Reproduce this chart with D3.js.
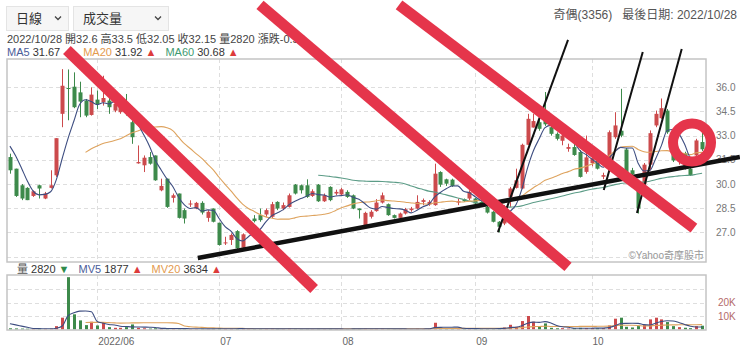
<!DOCTYPE html>
<html>
<head>
<meta charset="utf-8">
<script src="https://cdn.jsdelivr.net/npm/d3@7/dist/d3.min.js"></script>
<style>
  body { margin: 0; background: #fff; }
  svg { display: block; font-family: "Liberation Sans", "Noto Sans CJK TC", sans-serif; }
</style>
</head>
<body>
<svg id="chart" width="740" height="353"></svg>
<script>
// Axes
const monthTickIndex = [15, 36, 57, 80, 100];
const monthTickLabels = ["2022/06", "07", "08", "09", "10"];
const priceTicks = [27, 28.5, 30, 31.5, 33, 34.5, 36];
const priceGrid = [25.5, 27, 28.5, 30, 31.5, 33, 34.5, 36];
const volumeTicks = [10000, 20000];
const volumeTickLabels = ["10K", "20K"];
const volumeGrid = [10000, 20000, 30000];

// Closes and volumes of the 6 sessions before the window (only used by the moving averages)
const preClose = [31.0, 31.6, 32.3, 32.9, 33.0, 32.7];
const preVolume = [3200, 3500, 5000, 5200, 5100, 5050];

// Daily candles
const openPrices = [
  31.67, 30.95, 29.92, 29.76, 29.26, 29.92, 29.1, 29.76, 30.54, 34.35,
  35.95, 36.03, 35.68, 35.17, 34.28, 35.23, 35.07, 35.17, 34.55, 34.45,
  34.76, 33.83, 31.28, 31.16, 31.67, 31.77, 29.61, 30.33, 29.14, 29.41,
  28.38, 28.73, 28.48, 28.83, 27.9, 28.48, 27.6, 26.32, 26.53, 27.08,
  26.05, 27.25, 27.86, 28.07, 28.11, 27.97, 28.89, 28.48, 28.58, 29.96,
  29.92, 29.92, 29.26, 29.96, 28.93, 29.82, 29.41, 29.35, 29.51, 29.3,
  28.48, 27.45, 27.97, 28.32, 28.85, 28.75, 28.07, 27.9, 28.17, 28.38,
  28.48, 28.89, 28.73, 28.69, 30.74, 30.29, 30.27, 28.85, 29.06, 29.1,
  29.1, 28.89, 28.58, 28.28, 27.66, 27.55, 29.2, 29.76, 29.72, 32.43,
  33.5, 33.83, 34.5, 33.52, 33.11, 32.68, 32.18, 32.29, 31.98, 30.75,
  31.3, 31.44, 30.45, 31.57, 32.9, 33.3, 32.14, 30.85, 30.13, 30.0,
  31.2, 33.63, 34.08, 34.55, 33.21, 31.4, 31.9, 30.95, 31.77, 32.6
];
const highPrices = [
  31.88, 30.95, 30.0, 29.8, 29.6, 29.96, 29.51, 30.85, 32.84, 37.12,
  37.1, 36.92, 36.34, 35.27, 35.99, 35.79, 36.71, 35.48, 35.37, 35.17,
  35.58, 33.93, 32.39, 31.77, 31.98, 31.77, 30.33, 30.33, 29.41, 29.41,
  28.48, 28.99, 28.89, 28.93, 28.38, 28.48, 27.6, 26.73, 26.94, 27.14,
  26.94, 27.9, 28.07, 28.48, 28.48, 28.89, 28.93, 28.85, 29.41, 30.0,
  29.96, 30.29, 29.67, 30.0, 29.41, 29.86, 29.65, 29.76, 29.61, 29.35,
  28.48, 28.28, 28.38, 29.06, 29.47, 28.79, 28.11, 28.23, 28.52, 28.58,
  29.3, 29.1, 29.0, 31.26, 30.79, 30.33, 30.33, 29.1, 29.1, 29.61,
  29.14, 28.93, 28.69, 28.32, 27.7, 28.7, 29.82, 30.95, 32.5, 34.35,
  34.35, 34.35, 35.7, 33.6, 33.2, 33.3, 32.5, 33.1, 32.1, 33.0,
  31.9, 31.5, 30.7, 33.32, 34.45, 35.9, 32.23, 31.0, 30.23, 31.3,
  33.32, 34.55, 35.3, 34.65, 33.32, 32.1, 32.0, 31.57, 32.8, 33.5
];
const lowPrices = [
  30.64, 29.2, 29.0, 29.0, 29.2, 29.1, 29.06, 29.72, 30.44, 33.52,
  33.95, 34.7, 34.14, 34.14, 34.24, 34.65, 34.86, 34.35, 34.45, 34.35,
  34.24, 32.49, 31.26, 30.74, 31.2, 30.2, 29.55, 28.52, 28.85, 27.86,
  27.55, 28.58, 28.44, 28.11, 27.66, 27.62, 26.18, 26.22, 26.22, 25.97,
  25.97, 27.14, 27.62, 27.66, 27.97, 27.9, 28.38, 28.38, 28.54, 29.35,
  29.41, 29.14, 29.2, 28.89, 28.89, 28.93, 29.3, 29.26, 29.14, 28.44,
  27.86, 27.41, 27.86, 28.28, 28.79, 28.03, 27.86, 27.86, 28.11, 28.28,
  28.44, 28.69, 28.65, 28.65, 29.82, 29.88, 29.82, 28.69, 28.89, 29.0,
  28.73, 28.58, 28.17, 27.62, 27.0, 27.45, 28.58, 29.72, 29.68, 32.4,
  33.5, 33.3, 33.6, 33.0, 32.7, 32.4, 32.0, 31.75, 30.4, 30.64,
  31.1, 30.9, 30.3, 31.46, 32.8, 32.9, 30.64, 30.5, 28.17, 29.9,
  30.85, 33.52, 34.04, 33.11, 31.36, 31.2, 30.9, 30.5, 31.67, 32.05
];
const closePrices = [
  30.85, 29.26, 29.1, 29.0, 29.55, 29.72, 29.41, 29.92, 32.84, 36.09,
  35.9, 34.76, 35.11, 34.24, 35.54, 34.96, 35.33, 34.76, 34.96, 34.86,
  34.55, 32.9, 31.36, 31.63, 31.26, 30.23, 29.88, 28.58, 29.3, 27.9,
  27.86, 28.79, 28.83, 28.23, 28.28, 27.66, 26.22, 26.38, 26.84, 26.01,
  26.88, 27.55, 27.7, 27.76, 28.38, 28.75, 28.48, 28.69, 29.3, 29.41,
  29.61, 29.2, 29.55, 28.93, 29.3, 29.0, 29.51, 29.67, 29.2, 28.48,
  28.38, 28.21, 28.28, 28.85, 29.3, 28.07, 27.9, 28.17, 28.44, 28.48,
  28.89, 29.0, 28.89, 30.64, 29.96, 30.02, 29.88, 28.93, 28.93, 29.51,
  28.79, 28.69, 28.23, 27.66, 27.35, 28.6, 29.72, 30.23, 32.43, 34.04,
  33.9, 33.42, 33.7, 33.11, 32.8, 33.0, 32.29, 31.8, 30.44, 31.65,
  31.6, 30.95, 30.55, 33.21, 33.63, 33.0, 30.74, 30.6, 28.48, 31.2,
  33.15, 34.35, 34.7, 33.21, 31.46, 31.9, 31.06, 30.54, 32.7, 32.15
];
const volumes = [
  900, 800, 700, 600, 500, 600, 500, 600, 2500, 8750,
  38750, 11250, 6750, 3250, 5750, 3000, 5000, 1750, 1250, 1250,
  1750, 3750, 1250, 900, 700, 900, 600, 800, 500, 700,
  600, 400, 400, 500, 500, 500, 900, 500, 500, 600,
  700, 600, 400, 400, 500, 700, 500, 400, 700, 500,
  400, 500, 400, 600, 400, 500, 300, 400, 400, 600,
  500, 700, 400, 600, 700, 500, 300, 400, 400, 300,
  600, 400, 500, 5000, 1500, 800, 700, 900, 500, 600,
  600, 400, 500, 700, 900, 1500, 3500, 2000, 6250, 10000,
  5750, 2500, 4500, 1250, 900, 1000, 700, 1000, 1200, 1000,
  1000, 900, 1000, 3000, 8000, 8750, 2000, 1500, 2500, 3250,
  7500, 8750, 7500, 5500, 2500, 1750, 1300, 1000, 2500, 2820
];

// Hand-drawn marks on top of the chart, in (session index, price)
const redStrokes = [
  [[9.8, 38.31], [52.3, 23.49]],
  [[43.0, 41.1], [95.95, 24.86]],
  [[66.9, 41.1], [117.6, 27.27]]
];
const thickStroke = [[32.3, 25.41], [125.5, 31.67]];
const thinStrokes = [
  [[83.9, 27.02], [95.95, 38.93]],
  [[102.1, 29.63], [108.8, 38.18]],
  [[107.8, 28.2], [115.5, 38.37]]
];
const redCircle = [117.27, 32.57];

const upColor = "#cc4a4c";
const downColor = "#3d8a4b";
const ma5Color = "#3d4d80";
const ma20Color = "#dea35e";
const ma60Color = "#5c9c87";

const n = closePrices.length;
const svg = d3.select("#chart");

const mainBox = { left: 7, right: 706, top: 59, bottom: 262 };
const volBox = { left: 7, right: 706, top: 275, bottom: 330 };

const x = d3.scaleBand().domain(d3.range(n)).range([7, 705]);
const cx = i => x(i) + x.bandwidth() / 2;
const xLin = d3.scaleLinear().domain([0, n - 1]).range([cx(0), cx(n - 1)]);

const y = d3.scaleLinear().domain([25.5, 36]).range([256.6, 87.2]);
const yVol = d3.scaleLinear().domain([0, 10000]).range([329.5, 316]);

// Moyennes mobiles
function movingAverage(values, period, offset) {
  return d3.range(n).map(i => {
    const end = i + offset;
    const start = end - period + 1;
    if (start < 0) return null;
    return d3.mean(values.slice(start, end + 1));
  });
}
const allClose = preClose.concat(closePrices);
const allVol = preVolume.concat(volumes);
const ma5 = movingAverage(allClose, 5, preClose.length);
const ma20 = movingAverage(allClose, 20, preClose.length);
const ma60 = movingAverage(allClose, 60, preClose.length);
const mv5 = movingAverage(allVol, 5, preVolume.length);
const mv20 = movingAverage(allVol, 20, preVolume.length);

// ---- Header ----
const boxes = [
  { x: 6, w: 62, label: "日線" },
  { x: 73, w: 95, label: "成交量" }
];
boxes.forEach(b => {
  svg.append("rect")
    .attr("x", b.x + 0.5).attr("y", 6.5)
    .attr("width", b.w).attr("height", 24)
    .attr("fill", "#f6f6f6")
    .attr("stroke", "#e4e4e4");
  svg.append("text")
    .attr("x", b.x + 10).attr("y", 23)
    .attr("font-family", "Noto Sans CJK TC")
    .attr("font-size", 13).attr("fill", "#333")
    .text(b.label);
  const chevX = b.x + b.w - 10;
  svg.append("path")
    .attr("d", `M${chevX - 3},16.5 L${chevX},19.5 L${chevX + 3},16.5`)
    .attr("fill", "none").attr("stroke", "#444").attr("stroke-width", 1.3);
});

svg.append("text")
  .attr("x", 737).attr("y", 19)
  .attr("text-anchor", "end")
  .attr("font-size", 12).attr("fill", "#555")
  .attr("xml:space", "preserve")
  .text("奇偶(3356)   最後日期: 2022/10/28");

svg.append("text")
  .attr("x", 7).attr("y", 43)
  .attr("font-size", 11).attr("fill", "#444")
  .text("2022/10/28 開32.6 高33.5 低32.05 收32.15 量2820 漲跌-0.55");

function legendRow(yPos, xStart, items) {
  const t = svg.append("text")
    .attr("x", xStart).attr("y", yPos)
    .attr("font-size", 11).attr("xml:space", "preserve");
  items.forEach(it => {
    t.append("tspan").attr("fill", it.c).attr("dx", it.dx || 0).text(it.t);
  });
}
legendRow(56, 7, [
  { t: "MA5", c: "#4a5c99" }, { t: " 31.67 ", c: "#333" }, { t: "▲", c: "#dd3b3b" },
  { t: "MA20", c: "#e39a4d", dx: 9 }, { t: " 31.92 ", c: "#333" }, { t: "▲", c: "#dd3b3b" },
  { t: "MA60", c: "#3e9a70", dx: 9 }, { t: " 30.68 ", c: "#333" }, { t: "▲", c: "#dd3b3b" }
]);
legendRow(273, 17, [
  { t: "量", c: "#555" }, { t: " 2820 ", c: "#333" }, { t: "▼", c: "#2f8a4a" },
  { t: "MV5", c: "#4a5c99", dx: 9 }, { t: " 1877 ", c: "#333" }, { t: "▲", c: "#dd3b3b" },
  { t: "MV20", c: "#e39a4d", dx: 9 }, { t: " 3634 ", c: "#333" }, { t: "▲", c: "#dd3b3b" }
]);

// ---- Grilles ----
svg.selectAll(".price-grid")
  .data(priceGrid)
  .join("line")
  .attr("class", "price-grid")
  .attr("x1", mainBox.left).attr("x2", mainBox.right)
  .attr("y1", d => Math.round(y(d)) + 0.5).attr("y2", d => Math.round(y(d)) + 0.5)
  .attr("stroke", "#dedede").attr("stroke-dasharray", "4,3");

svg.selectAll(".vol-grid")
  .data(volumeGrid)
  .join("line")
  .attr("class", "vol-grid")
  .attr("x1", volBox.left).attr("x2", volBox.right)
  .attr("y1", d => Math.round(yVol(d)) + 0.5).attr("y2", d => Math.round(yVol(d)) + 0.5)
  .attr("stroke", "#dedede").attr("stroke-dasharray", "4,3");

[mainBox, volBox].forEach(b => {
  svg.append("g").selectAll("line")
    .data(monthTickIndex)
    .join("line")
    .attr("x1", d => Math.round(cx(d)) + 0.5).attr("x2", d => Math.round(cx(d)) + 0.5)
    .attr("y1", b.top).attr("y2", b.bottom)
    .attr("stroke", "#dedede").attr("stroke-dasharray", "4,3");
});

// Axe des prix
svg.selectAll(".price-label")
  .data(priceTicks)
  .join("text")
  .attr("class", "price-label")
  .attr("x", 716).attr("y", d => y(d) + 3.5)
  .attr("font-size", 10).attr("fill", "#777")
  .text(d => d.toFixed(1));

svg.selectAll(".vol-label")
  .data(volumeTicks)
  .join("text")
  .attr("class", "vol-label")
  .attr("x", 718).attr("y", d => yVol(d) + 3.5)
  .attr("font-size", 10).attr("fill", "#b46a6a")
  .text((d, i) => volumeTickLabels[i]);

svg.selectAll(".month-label")
  .data(monthTickIndex)
  .join("text")
  .attr("class", "month-label")
  .attr("x", d => cx(d) + 1).attr("y", 345)
  .attr("font-size", 10).attr("fill", "#666")
  .text((d, i) => monthTickLabels[i]);

// ---- Bougies ----
const candles = svg.append("g");
d3.range(n).forEach(i => {
  const up = closePrices[i] >= openPrices[i];
  const col = up ? upColor : downColor;
  const xc = Math.round(cx(i));
  candles.append("line")
    .attr("x1", xc + 0.5).attr("x2", xc + 0.5)
    .attr("y1", y(highPrices[i])).attr("y2", y(lowPrices[i]))
    .attr("stroke", col);
  const top = y(Math.max(openPrices[i], closePrices[i]));
  const bot = y(Math.min(openPrices[i], closePrices[i]));
  candles.append("rect")
    .attr("x", xc - 1.5).attr("width", 4)
    .attr("y", top).attr("height", Math.max(1, bot - top))
    .attr("fill", col);
});

const maLine = d3.line()
  .defined(d => d !== null)
  .x((d, i) => cx(i))
  .y(d => y(d))
  .curve(d3.curveMonotoneX);
[[ma60, ma60Color], [ma20, ma20Color], [ma5, ma5Color]].forEach(([data, col]) => {
  svg.append("path")
    .attr("d", maLine(data))
    .attr("fill", "none").attr("stroke", col).attr("stroke-width", 1.1);
});

// ---- Volume ----
svg.selectAll(".vol-bar")
  .data(volumes)
  .join("rect")
  .attr("class", "vol-bar")
  .attr("x", (d, i) => Math.round(cx(i)) - 1)
  .attr("width", 3)
  .attr("y", d => yVol(d))
  .attr("height", d => yVol(0) - yVol(d))
  .attr("fill", (d, i) => closePrices[i] >= openPrices[i] ? upColor : downColor);

const mvLine = d3.line()
  .defined(d => d !== null)
  .x((d, i) => cx(i))
  .y(d => yVol(d))
  .curve(d3.curveMonotoneX);
[[mv20, ma20Color], [mv5, ma5Color]].forEach(([data, col]) => {
  svg.append("path")
    .attr("d", mvLine(data))
    .attr("fill", "none").attr("stroke", col).attr("stroke-width", 1.1);
});

// Cadres
[mainBox, volBox].forEach(b => {
  svg.append("rect")
    .attr("x", b.left).attr("y", b.top)
    .attr("width", b.right - b.left).attr("height", b.bottom - b.top)
    .attr("fill", "none").attr("stroke", "#c4c4c4").attr("stroke-width", 1.5);
});

svg.append("text")
  .attr("x", 704).attr("y", 259)
  .attr("text-anchor", "end")
  .attr("font-size", 10).attr("fill", "#999")
  .text("©Yahoo奇摩股市");

// ---- Annotations ----
const seg = d3.line().x(d => xLin(d[0])).y(d => y(d[1]));
svg.append("path")
  .attr("d", seg(thickStroke))
  .attr("stroke", "#111").attr("stroke-width", 4.5).attr("fill", "none");
thinStrokes.forEach(s => {
  svg.append("path")
    .attr("d", seg(s))
    .attr("stroke", "#111").attr("stroke-width", 2).attr("fill", "none");
});
redStrokes.forEach(s => {
  svg.append("path")
    .attr("d", seg(s))
    .attr("stroke", "#e5354b").attr("stroke-width", 11).attr("fill", "none");
});
svg.append("circle")
  .attr("cx", xLin(redCircle[0])).attr("cy", y(redCircle[1]))
  .attr("r", 19)
  .attr("fill", "none").attr("stroke", "#e5354b").attr("stroke-width", 10);
</script>
</body>
</html>
